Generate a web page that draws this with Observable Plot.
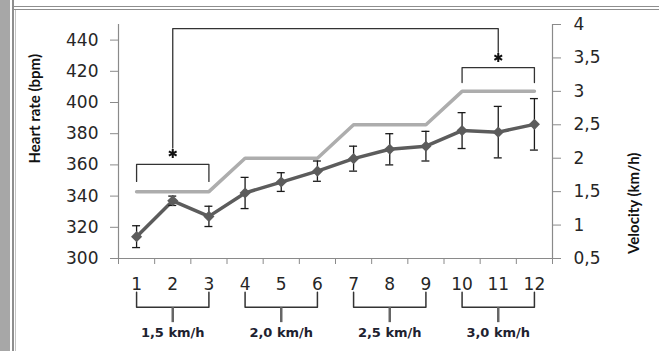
<!DOCTYPE html>
<html><head><meta charset="utf-8">
<script src="https://cdn.jsdelivr.net/npm/d3@7"></script>
<script src="https://cdn.jsdelivr.net/npm/@observablehq/plot@0.6"></script>
<style>
html,body{margin:0;padding:0;background:#fff;width:659px;height:351px;overflow:hidden}
#wrap{position:relative;width:659px;height:351px}
.stripe{position:absolute;left:0;top:0;width:10px;height:351px;background:#a7a7a7}
.vl{position:absolute;top:0;width:1px;height:351px;background:#8e8e8e}
.hl{position:absolute;left:12px;right:0;height:1px;background:#8e8e8e}
#chart{position:absolute;left:0;top:0}
#chart svg{overflow:visible}
</style></head><body>
<div id="wrap">
<div class="stripe"></div>
<div class="vl" style="left:12px;width:2px"></div>
<div class="vl" style="left:15px;top:10px;background:#c4c4c4"></div>
<div class="hl" style="top:6px"></div>
<div class="hl" style="top:9px;left:14px"></div>
<div id="chart"></div>
</div>
<script>
// ---- data ----
const stages = [1, 2, 3, 4, 5, 6, 7, 8, 9, 10, 11, 12];
const heartRate = [314, 337, 327, 342, 349, 356, 364, 370, 372, 382, 381, 386];
const heartSD   = [7, 3, 6.5, 10, 6, 6.5, 8, 10, 9.5, 11.5, 16.5, 16.5];
const velocity  = [1.5, 1.5, 1.5, 2, 2, 2, 2.5, 2.5, 2.5, 3, 3, 3];
const hrTicks   = [300, 320, 340, 360, 380, 400, 420, 440];
const velTicks  = [0.5, 1, 1.5, 2, 2.5, 3, 3.5, 4];
const velLabels = ["0,5", "1", "1,5", "2", "2,5", "3", "3,5", "4"];
const groupLabels = ["1,5 km/h", "2,0 km/h", "2,5 km/h", "3,0 km/h"];
const groupFrom   = [1, 4, 7, 10];
const groupTo     = [3, 6, 9, 12];
// significance annotations (stage spans and star positions)
const sigFrom = [1, 10];
const sigTo   = [3, 12];
const sigStar = [2, 11];

// ---- scales ----
const hrMin = 300, hrMax = 450, velMin = 0.5, velMax = 4;
const H = v => hrMin + (v - velMin) * (hrMax - hrMin) / (velMax - velMin);
const velTicksHR = velTicks.map(H);

const data = stages.map((s, i) => ({s, hr: heartRate[i], sd: heartSD[i], v: H(velocity[i])}));
const caps = data.flatMap(d => [{s: d.s, y: d.hr - d.sd}, {s: d.s, y: d.hr + d.sd}]);
const groups = groupLabels.map((label, i) => ({label, from: groupFrom[i], to: groupTo[i], mid: (groupFrom[i] + groupTo[i]) / 2}));
const boundaries = d3.range(0.5, 13, 1);

// annotation layout levels (in heart-rate units)
const legTop = 278.4, legBar = 268.8, stemEnd = 259.2, grpText = 252.6;
const sigTop = [360.3, 422.4], sigLeg = [349.4, 412.8], starY = [367.3, 428.8];
const linkTop = 447.4, linkEnd = [370.8, 432.2];

const ink = "#262626", axisGray = "#8a8a8a", annot = "#333333";
const titleFont = "Lato, 'Liberation Sans Narrow', sans-serif";

const chart = Plot.plot({
  width: 659, height: 351,
  marginTop: 24, marginBottom: 93, marginLeft: 118, marginRight: 107,
  x: {type: "linear", domain: [0.5, 12.5]},
  y: {domain: [hrMin, hrMax]},
  style: {fontFamily: "DejaVu Sans", fontSize: "17px", color: ink, background: "transparent", overflow: "visible"},
  marks: [
    // axis lines
    Plot.ruleX([0.5], {y1: hrMin, y2: hrMax, stroke: axisGray, strokeWidth: 1.2}),
    Plot.ruleX([12.5], {y1: hrMin, y2: hrMax, stroke: axisGray, strokeWidth: 1.2}),
    Plot.ruleY([hrMin], {x1: 0.5, x2: 12.5, stroke: axisGray, strokeWidth: 1.2}),
    // left axis
    Plot.axisY(hrTicks, {anchor: "left", tickSize: 8, tickPadding: 12, stroke: axisGray, fill: ink, label: null,
      fontSize: 17, letterSpacing: 2.5}),
    // right axis (velocity)
    Plot.axisY(velTicksHR, {anchor: "right", tickSize: 8, tickPadding: 13, stroke: axisGray, fill: ink, label: null,
      tickFormat: d => velLabels[velTicksHR.indexOf(d)], fontSize: 17, letterSpacing: 2.5}),
    // x ticks at stage boundaries
    Plot.axisX(boundaries, {anchor: "bottom", tickSize: 6, stroke: axisGray, text: null, label: null}),
    // x labels
    Plot.axisX(stages, {anchor: "bottom", tickSize: 0, tickPadding: 19, fill: ink, label: null,
      tickFormat: d => String(d), fontSize: 17, letterSpacing: 2.5}),
    // axis titles
    Plot.text(["Heart rate (bpm)"], {frameAnchor: "left", rotate: -90, dx: -83, dy: 22, fill: "#111",
      fontFamily: titleFont, fontSize: 15, fontWeight: "bold"}),
    Plot.text(["Velocity (km/h)"], {frameAnchor: "right", rotate: -90, dx: 82, dy: 11, fill: "#111",
      fontFamily: titleFont, fontSize: 15, fontWeight: "bold"}),
    // velocity line
    Plot.line(data, {x: "s", y: "v", stroke: "#adadad", strokeWidth: 3.5}),
    // heart rate line
    Plot.line(data, {x: "s", y: "hr", stroke: "#5c5c5c", strokeWidth: 3.5}),
    // error bars
    Plot.ruleX(data, {x: "s", y1: d => d.hr - d.sd, y2: d => d.hr + d.sd, stroke: "#1a1a1a", strokeWidth: 1.3}),
    Plot.ruleY(caps, {y: "y", x1: d => d.s - 0.11, x2: d => d.s + 0.11, stroke: "#1a1a1a", strokeWidth: 1.3}),
    Plot.dot(data, {x: "s", y: "hr", symbol: "diamond2", r: 5, fill: "#5c5c5c", stroke: "none"}),
    // significance brackets
    Plot.line(sigFrom.flatMap((f, i) => [
        {x: f, y: sigLeg[i], k: i}, {x: f, y: sigTop[i], k: i},
        {x: sigTo[i], y: sigTop[i], k: i}, {x: sigTo[i], y: sigLeg[i], k: i}]),
      {x: "x", y: "y", z: "k", stroke: annot, strokeWidth: 1.3}),
    Plot.line([
        {x: sigStar[0], y: linkEnd[0]}, {x: sigStar[0], y: linkTop},
        {x: sigStar[1], y: linkTop}, {x: sigStar[1], y: linkEnd[1]}],
      {x: "x", y: "y", stroke: annot, strokeWidth: 1.3}),
    Plot.dot(sigStar.map((s, i) => ({x: s, y: starY[i]})), {x: "x", y: "y", symbol: "asterisk", r: 4.2, stroke: "#111", strokeWidth: 2}),
    // stage group brackets under the axis
    Plot.line(groups.flatMap((g, i) => [
        {x: g.from, y: legTop, k: i}, {x: g.from, y: legBar, k: i},
        {x: g.to, y: legBar, k: i}, {x: g.to, y: legTop, k: i}]),
      {x: "x", y: "y", z: "k", stroke: annot, strokeWidth: 1.5}),
    Plot.link(groups, {x1: "mid", x2: "mid", y1: legBar, y2: stemEnd, stroke: "#666", strokeWidth: 2.5}),
    Plot.text(groups, {x: "mid", y: grpText, text: "label", fill: "#1e2230", fontWeight: "bold", fontSize: 13, letterSpacing: 1})
  ]
});
document.getElementById("chart").appendChild(chart);
</script>
</body></html>
